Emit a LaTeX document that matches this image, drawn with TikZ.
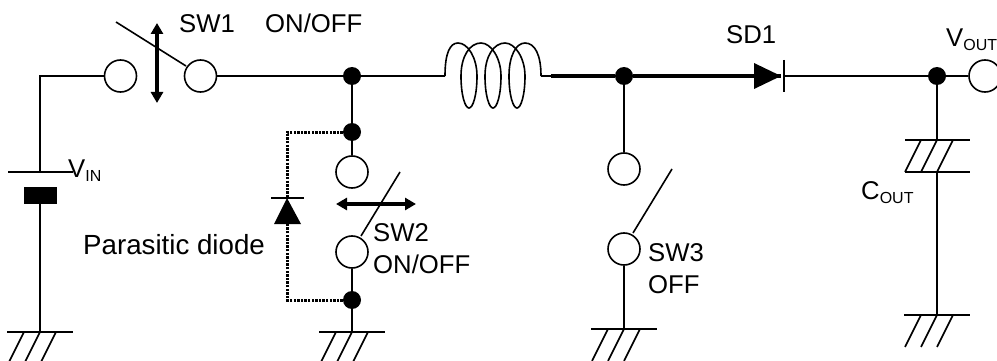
\documentclass[tikz,border=0pt]{standalone}
\usepackage{fontspec}
\setmainfont{Liberation Sans}
\usetikzlibrary{arrows.meta}
\newcommand{\subtxt}[1]{\raisebox{-4pt}{\fontsize{16}{18}\selectfont #1}}
\tikzset{
  wire/.style={line width=1.6pt},
  boldwire/.style={line width=4pt},
  dotwire/.style={line width=3pt, dash pattern=on 2.4pt off 1.2pt},
  swarrow/.style={<->, line width=3.5pt},
  terminal/.style={circle, draw, line width=1.6pt, fill=white, minimum size=32pt, inner sep=0pt},
  junction/.style={circle, fill=black, minimum size=18pt, inner sep=0pt},
  lab/.style={anchor=base west, inner sep=0pt, font=\fontsize{25.7}{30}\selectfont}
}
\begin{document}
\begin{tikzpicture}[>={Stealth[length=11pt, width=12pt, inset=0pt]}, x=1pt, y=-1pt]
    \useasboundingbox (0, 0) rectangle (997, 361);
    % nodes of the circuit
    \coordinate (corner) at (40, 76);
    \coordinate (batplus) at (40, 172);
    \coordinate (batminus) at (40, 204);
    \coordinate (gndin) at (40, 332);
    \node[terminal] (swonea) at (120.5, 76) {};
    \node[terminal] (swoneb) at (200.5, 76) {};
    \node[junction] (juncl) at (352, 76) {};
    \node[junction] (twotop) at (352, 132) {};
    \node[terminal] (swtwoa) at (352, 172) {};
    \node[terminal] (swtwob) at (352, 252) {};
    \node[junction] (twobot) at (352, 300) {};
    \coordinate (gndtwo) at (352, 332);
    \coordinate (coilin) at (445, 76);
    \coordinate (coilout) at (541, 76);
    \coordinate (boldin) at (551, 76);
    \node[junction] (juncm) at (624, 76) {};
    \node[terminal] (swthreea) at (624, 169) {};
    \node[terminal] (swthreeb) at (624, 249) {};
    \coordinate (gndthree) at (624, 329);
    \coordinate (tip) at (781, 76);
    \coordinate (bar) at (784, 76);
    \node[junction] (juncr) at (937, 76) {};
    \node[terminal] (vout) at (985, 76) {};
    \coordinate (capa) at (937, 140);
    \coordinate (capb) at (937, 172);
    \coordinate (gndout) at (937, 315);
    % wires
    \draw[wire] (swonea) -- (corner) -- (batplus);
    \draw[wire] (batminus) -- (gndin);
    \draw[wire] (swoneb) -- (juncl) -- (coilin);
    \draw[wire] (juncl) -- (twotop) -- (swtwoa);
    \draw[wire] (swtwob) -- (twobot) -- (gndtwo);
    \draw[wire] (coilout) -- (boldin);
    \draw[boldwire] (boldin) -- (juncm) -- (tip);
    \draw[wire] (juncm) -- (swthreea);
    \draw[wire] (swthreeb) -- (gndthree);
    \draw[wire] (bar) -- (juncr) -- (vout);
    \draw[wire] (juncr) -- (capa);
    \draw[wire] (capb) -- (gndout);
    % coil
    \draw[wire] (coilin) .. controls (445, 53) and (450, 43) .. (458, 43)
        .. controls (468, 43) and (477, 58) .. (477, 76);
    \foreach \x in {0, 24, 48} {
      \draw[wire] (477+\x, 76) .. controls (477+\x, 95) and (473+\x, 108) .. (469+\x, 108)
          .. controls (465+\x, 108) and (461+\x, 95) .. (461+\x, 76);
    }
    \foreach \x in {0, 24} {
      \draw[wire] (461+\x, 76) .. controls (461+\x, 56) and (470+\x, 43) .. (481+\x, 43)
          .. controls (491+\x, 43) and (501+\x, 58) .. (501+\x, 76);
    }
    \draw[wire] (509, 76) .. controls (509, 56) and (516, 43) .. (525, 43)
        .. controls (535, 43) and (541, 55) .. (coilout);
    % battery and capacitor
    \draw[wire] (8, 172) -- (73, 172);
    \fill (24, 187) rectangle (57, 204);
    \draw[wire] (905, 140) -- (970, 140);
    \draw[wire] (905, 172) -- (970, 172);
    \foreach \x in {921, 937, 953} {
      \draw[wire] (\x, 140) -- (\x-16, 172);
    }
    % grounds
    \foreach \x/\y in {40/332, 352/332, 624/329, 937/315} {
      \draw[wire] (\x-33, \y) -- (\x+33, \y);
      \foreach \d in {-16, 0, 16} {
        \draw[wire] (\x+\d, \y) -- (\x+\d-16, \y+32);
      }
    }
    % switch blades
    \draw[wire] (116, 22) -- (186, 66);
    \draw[wire] (361, 236) -- (400, 172);
    \draw[wire] (633, 233) -- (672, 169);
    \draw[swarrow] (157, 23) -- (157, 103);
    \draw[swarrow] (336, 204) -- (416, 204);
    % Schottky diode
    \fill (754, 63) -- (tip) -- (754, 89) -- cycle;
    \draw[wire] (784, 60) -- (784, 92);
    % parasitic diode
    \coordinate (parbar) at (287, 198);
    \coordinate (parbase) at (287, 224);
    \draw[dotwire] (twotop) -| (parbar);
    \draw[dotwire] (twobot) -| (parbase);
    \fill (parbar) -- (274, 224) -- (301, 224) -- cycle;
    \draw[wire] (271, 198) -- (304, 198);
    % labels
    \node[lab] (swonelab) at (179, 33) {SW1};
    \node[lab] (swonestate) at (265, 33) {ON/OFF};
    \node[lab] (vinlab) at (68, 177) {V\subtxt{IN}};
    \node[lab, font=\fontsize{27.7}{30}\selectfont] (parlab) at (83, 254) {Parasitic diode};
    \node[lab] (swtwolab) at (373, 241) {SW2};
    \node[lab] (swtwostate) at (373, 273) {ON/OFF};
    \node[lab] (sdlab) at (726, 44) {SD1};
    \node[lab] (swthreelab) at (648, 261) {SW3};
    \node[lab] (swthreestate) at (648, 293) {OFF};
    \node[lab] (voutlab) at (946, 47) {V\subtxt{OUT}};
    \node[lab] (coutlab) at (861, 199) {C\subtxt{OUT}};
  \end{tikzpicture}
\end{document}
